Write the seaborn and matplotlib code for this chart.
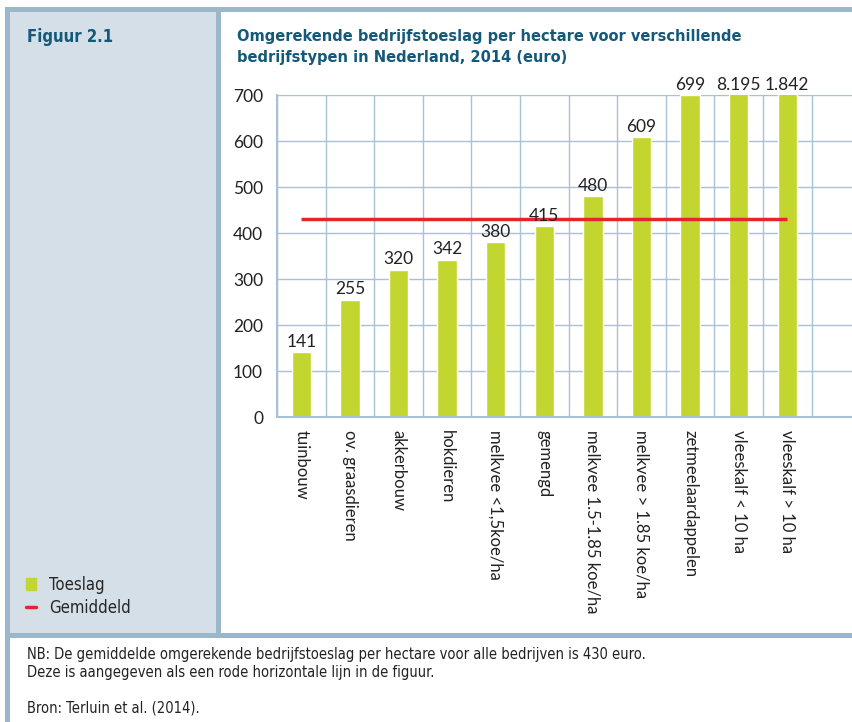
import numpy as np
import pandas as pd
import matplotlib.pyplot as plt
from matplotlib.patches import Rectangle, Patch
from matplotlib.lines import Line2D
import seaborn as sns

# Data
categories = ['tuinbouw', 'ov. graasdieren', 'akkerbouw', 'hokdieren',
              'melkvee <1,5koe/ha', 'gemengd', 'melkvee 1.5-1.85 koe/ha',
              'melkvee > 1.85 koe/ha', 'zetmeelaardappelen',
              'vleeskalf < 10 ha', 'vleeskalf > 10 ha']
toeslag = [141, 255, 320, 342, 380, 415, 480, 609, 699, 8195, 1842]
gemiddeld = 430
y_ticks = [0, 100, 200, 300, 400, 500, 600, 700]

title = "Omgerekende bedrijfstoeslag per hectare voor verschillende\nbedrijfstypen in Nederland, 2014 (euro)"
note_lines = ["NB: De gemiddelde omgerekende bedrijfstoeslag per hectare voor alle bedrijven is 430 euro.",
              "Deze is aangegeven als een rode horizontale lijn in de figuur."]
source = "Bron: Terluin et al. (2014)."

# Colours
GREEN = '#c3d62f'
RED = '#e3262d'
TEAL = '#14587a'
FRAME = '#9bb7cc'
PANEL = '#d5dfe7'
GRID = '#a9c1d5'

sns.set_style("white")
NARROW = ['DejaVu Sans']
NUM = ['Lato', 'DejaVu Sans']
plt.rcParams['font.family'] = NUM

W, H = 853, 722
fig = plt.figure(figsize=(W / 100, H / 100), dpi=100)


def px_rect(x0, y0, x1, y1, color):
    # rectangle in pixel coords (origin top-left)
    fig.patches.append(Rectangle((x0 / W, 1 - y1 / H), (x1 - x0) / W, (y1 - y0) / H,
                                 transform=fig.transFigure, color=color, lw=0, zorder=0))


# frame and panels
px_rect(10, 12, 216, 633, PANEL)
px_rect(5, 7, W, 12, FRAME)
px_rect(5, 7, 10, H, FRAME)
px_rect(216, 7, 221, 633, FRAME)
px_rect(5, 633, W, 638, FRAME)

fig.text(27 / W, 1 - 37 / H, "Figuur 2.1", color=TEAL, fontsize=12, fontweight='bold',
         family=NARROW, fontstretch='condensed', va='center', ha='left')
fig.text(237 / W, 1 - 47 / H, title, color=TEAL, fontsize=11.7, fontweight='bold',
         family=NARROW, fontstretch='condensed', va='center', ha='left', linespacing=1.45)

# chart
ax = fig.add_axes([277 / W, 1 - 417 / H, (W - 277) / W, (417 - 95) / H])
df = pd.DataFrame({'type': categories, 'toeslag': toeslag})
sns.barplot(data=df, x='type', y='toeslag', color=GREEN, width=0.4, saturation=1,
            ax=ax, zorder=2)
ax.hlines(gemiddeld, 0, len(categories) - 1, color=RED, lw=2.5, zorder=3)

ax.set_ylim(0, 700)
ax.set_xlim(-0.5, -0.5 + (W - 277) / 48.6)
ax.set_yticks(y_ticks)
ax.set_yticklabels([str(t) for t in y_ticks], fontsize=12.5, color='#222222')
ax.set_xticks(range(len(categories)))
ax.set_xticklabels(categories, rotation=-90, fontsize=12, color='#222222',
                   va='top', ha='center')
ax.tick_params(axis='both', length=0)
ax.tick_params(axis='y', pad=10)
ax.tick_params(axis='x', pad=9)
ax.set_xlabel('')
ax.set_ylabel('')

# grid
ax.set_axisbelow(True)
for t in y_ticks:
    ax.axhline(t, color=GRID, lw=1, zorder=0)
ax.vlines(np.arange(len(categories) + 1) - 0.5, 0, 700, color=GRID, lw=1, zorder=0)
for s in ['top', 'right']:
    ax.spines[s].set_visible(False)
for s in ['left', 'bottom']:
    ax.spines[s].set_color(GRID)
    ax.spines[s].set_linewidth(1.5)

# value labels
for i, v in enumerate(toeslag):
    lbl = f"{v:,}".replace(",", ".")
    ax.text(i, min(v, 700) + 5, lbl, ha='center', va='bottom', fontsize=12.5,
            color='#222222', clip_on=False)

# legend in left panel
handles = [Patch(color=GREEN), Line2D([0], [0], color=RED, lw=2.5)]
fig.legend(handles, ['Toeslag', 'Gemiddeld'], loc='upper left',
           bbox_to_anchor=(11 / W, 1 - 561 / H), frameon=False,
           handlelength=0.6, handleheight=0.7, handletextpad=0.8, labelspacing=0.3,
           prop={'family': NARROW, 'stretch': 'condensed', 'size': 12})

# notes
for y, line in [(655, note_lines[0]), (673, note_lines[1]), (708, source)]:
    fig.text(27 / W, 1 - y / H, line, fontsize=10.5, family=NARROW,
             fontstretch='condensed', color='#222222', va='center')

fig.savefig('out.png', dpi=100)
